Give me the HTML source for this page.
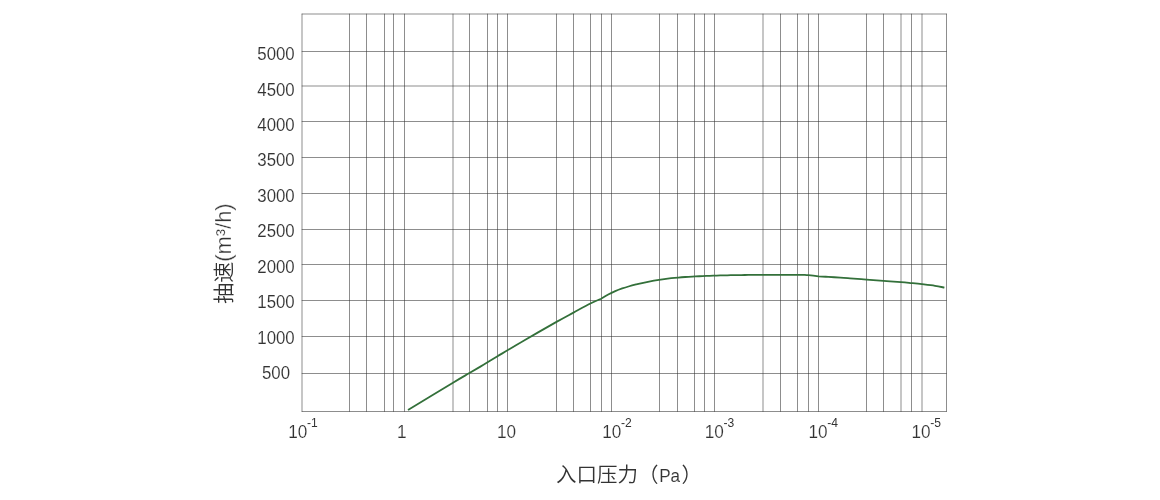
<!DOCTYPE html>
<html lang="zh-CN">
<head>
<meta charset="utf-8">
<title>抽速曲线</title>
<style>
html,body{margin:0;padding:0;background:#fff;}
body{width:1160px;height:500px;overflow:hidden;}
svg{display:block;}
.g line{stroke:#333;stroke-width:0.56;}
.yl{font-family:"Liberation Sans",sans-serif;font-size:18.2px;fill:#333;text-anchor:middle;stroke:#fff;stroke-width:0.1px;}
.xl{font-family:"Liberation Sans","Noto Sans CJK SC",sans-serif;font-size:17.9px;fill:#333;stroke:#fff;stroke-width:0.15px;}
.xs{font-family:"Liberation Sans","Noto Sans CJK SC",sans-serif;font-size:12.6px;fill:#333;stroke:none;}
.xt{font-family:"Liberation Sans","Noto Sans CJK SC",sans-serif;font-weight:350;font-size:20.5px;fill:#333;}
.xtl{font-size:19px;stroke:#fff;stroke-width:0.1px;}
.ytl{font-size:21.9px;stroke:#fff;stroke-width:0.3px;}
.yt{font-family:"Liberation Sans","Noto Sans CJK SC",sans-serif;font-weight:350;font-size:21px;fill:#333;}
</style>
</head>
<body>
<svg width="1160" height="500" viewBox="0 0 1160 500">
<rect x="0" y="0" width="1160" height="500" fill="#fff"/>
<g class="g">
<line x1="302.0" y1="13.72" x2="302.0" y2="411.78"/>
<line x1="349.5" y1="13.72" x2="349.5" y2="411.78"/>
<line x1="366.5" y1="13.72" x2="366.5" y2="411.78"/>
<line x1="384.5" y1="13.72" x2="384.5" y2="411.78"/>
<line x1="393.5" y1="13.72" x2="393.5" y2="411.78"/>
<line x1="404.5" y1="13.72" x2="404.5" y2="411.78"/>
<line x1="453.0" y1="13.72" x2="453.0" y2="411.78"/>
<line x1="469.5" y1="13.72" x2="469.5" y2="411.78"/>
<line x1="487.5" y1="13.72" x2="487.5" y2="411.78"/>
<line x1="497.5" y1="13.72" x2="497.5" y2="411.78"/>
<line x1="507.5" y1="13.72" x2="507.5" y2="411.78"/>
<line x1="556.5" y1="13.72" x2="556.5" y2="411.78"/>
<line x1="573.5" y1="13.72" x2="573.5" y2="411.78"/>
<line x1="590.5" y1="13.72" x2="590.5" y2="411.78"/>
<line x1="601.5" y1="13.72" x2="601.5" y2="411.78"/>
<line x1="611.5" y1="13.72" x2="611.5" y2="411.78"/>
<line x1="659.5" y1="13.72" x2="659.5" y2="411.78"/>
<line x1="677.5" y1="13.72" x2="677.5" y2="411.78"/>
<line x1="694.5" y1="13.72" x2="694.5" y2="411.78"/>
<line x1="704.5" y1="13.72" x2="704.5" y2="411.78"/>
<line x1="714.5" y1="13.72" x2="714.5" y2="411.78"/>
<line x1="763.0" y1="13.72" x2="763.0" y2="411.78"/>
<line x1="780.5" y1="13.72" x2="780.5" y2="411.78"/>
<line x1="797.5" y1="13.72" x2="797.5" y2="411.78"/>
<line x1="808.5" y1="13.72" x2="808.5" y2="411.78"/>
<line x1="818.5" y1="13.72" x2="818.5" y2="411.78"/>
<line x1="866.5" y1="13.72" x2="866.5" y2="411.78"/>
<line x1="883.5" y1="13.72" x2="883.5" y2="411.78"/>
<line x1="901.0" y1="13.72" x2="901.0" y2="411.78"/>
<line x1="911.5" y1="13.72" x2="911.5" y2="411.78"/>
<line x1="922.0" y1="13.72" x2="922.0" y2="411.78"/>
<line x1="946.5" y1="13.72" x2="946.5" y2="411.78"/>
<line x1="301.72" y1="14.0" x2="946.78" y2="14.0"/>
<line x1="301.72" y1="51.5" x2="946.78" y2="51.5"/>
<line x1="301.72" y1="86.0" x2="946.78" y2="86.0"/>
<line x1="301.72" y1="121.5" x2="946.78" y2="121.5"/>
<line x1="301.72" y1="157.5" x2="946.78" y2="157.5"/>
<line x1="301.72" y1="193.5" x2="946.78" y2="193.5"/>
<line x1="301.72" y1="229.5" x2="946.78" y2="229.5"/>
<line x1="301.72" y1="264.5" x2="946.78" y2="264.5"/>
<line x1="301.72" y1="300.5" x2="946.78" y2="300.5"/>
<line x1="301.72" y1="336.5" x2="946.78" y2="336.5"/>
<line x1="301.72" y1="373.5" x2="946.78" y2="373.5"/>
<line x1="301.72" y1="411.5" x2="946.78" y2="411.5"/>
</g>
<path d="M408.0,410.0 C415.50,405.45 442.83,388.82 453.00,382.70 C463.17,376.58 463.92,376.28 469.00,373.30 C474.08,370.32 478.75,367.63 483.50,364.80 C488.25,361.97 490.67,360.40 497.50,356.30 C504.33,352.20 514.67,345.93 524.50,340.20 C534.33,334.47 548.33,326.50 556.50,321.90 C564.67,317.30 567.85,315.67 573.50,312.60 C579.15,309.53 585.77,305.82 590.40,303.50 C595.02,301.18 599.44,299.50 601.25,298.70 C602.42,298.00 605.92,295.75 608.25,294.49 C610.58,293.23 612.92,292.13 615.25,291.12 C617.58,290.11 619.92,289.24 622.25,288.43 C624.58,287.62 626.92,286.92 629.25,286.25 C631.58,285.58 633.92,285.00 636.25,284.42 C638.58,283.85 640.92,283.31 643.25,282.80 C645.58,282.29 647.92,281.81 650.25,281.37 C652.58,280.93 654.92,280.51 657.25,280.13 C659.58,279.75 661.92,279.40 664.25,279.08 C666.58,278.76 668.92,278.47 671.25,278.21 C673.58,277.95 675.92,277.73 678.25,277.53 C680.58,277.33 682.92,277.16 685.25,277.01 C687.58,276.86 689.92,276.73 692.25,276.60 C694.58,276.47 696.92,276.36 699.25,276.25 C701.58,276.14 703.92,276.04 706.25,275.95 C708.58,275.86 710.92,275.77 713.25,275.69 C715.58,275.61 717.92,275.54 720.25,275.47 C722.58,275.40 724.92,275.35 727.25,275.29 C729.58,275.24 731.92,275.18 734.25,275.14 C736.58,275.10 738.92,275.06 741.25,275.03 C743.58,275.00 745.92,274.97 748.25,274.94 C750.58,274.91 752.92,274.89 755.25,274.87 C757.58,274.85 759.92,274.84 762.25,274.83 C764.58,274.82 766.92,274.81 769.25,274.80 C771.58,274.79 773.92,274.79 776.25,274.79 C778.58,274.79 780.92,274.78 783.25,274.78 C785.58,274.78 787.92,274.79 790.25,274.79 C792.58,274.79 794.94,274.79 797.25,274.79 C799.56,274.79 802.96,274.80 804.10,274.80 C804.82,274.86 805.98,274.89 808.40,275.15 C810.82,275.41 816.90,276.15 818.60,276.35 C820.22,276.44 824.68,276.69 828.30,276.90 C831.92,277.11 836.68,277.37 840.30,277.60 C843.92,277.83 845.63,277.97 850.00,278.30 C854.37,278.63 860.92,279.17 866.50,279.60 C872.08,280.03 877.75,280.48 883.50,280.90 C889.25,281.32 896.33,281.73 901.00,282.10 C905.67,282.47 908.00,282.75 911.50,283.10 C915.00,283.45 918.08,283.75 922.00,284.20 C925.92,284.65 931.27,285.23 935.00,285.80 C938.73,286.37 942.83,287.30 944.40,287.60" fill="none" stroke="#33703a" stroke-width="1.8" stroke-linejoin="round" stroke-linecap="butt"/>
<text class="yl" transform="translate(276,60) scale(0.925,1)">5000</text>
<text class="yl" transform="translate(276,96) scale(0.925,1)">4500</text>
<text class="yl" transform="translate(276,131) scale(0.925,1)">4000</text>
<text class="yl" transform="translate(276,166) scale(0.925,1)">3500</text>
<text class="yl" transform="translate(276,202) scale(0.925,1)">3000</text>
<text class="yl" transform="translate(276,237) scale(0.925,1)">2500</text>
<text class="yl" transform="translate(276,273) scale(0.925,1)">2000</text>
<text class="yl" transform="translate(276,308) scale(0.925,1)">1500</text>
<text class="yl" transform="translate(276,344) scale(0.925,1)">1000</text>
<text class="yl" transform="translate(276,379) scale(0.925,1)">500</text>
<text class="xl" transform="translate(288.20,438) scale(0.96,1)">10<tspan class="xs" dx="-0.3" dy="-11">-1</tspan></text>
<text class="xl" transform="translate(396.90,438) scale(0.96,1)">1</text>
<text class="xl" transform="translate(497.00,438) scale(0.96,1)">10</text>
<text class="xl" transform="translate(602.25,438) scale(0.96,1)">10<tspan class="xs" dx="-0.3" dy="-11">-2</tspan></text>
<text class="xl" transform="translate(704.75,438) scale(0.96,1)">10<tspan class="xs" dx="-0.3" dy="-11">-3</tspan></text>
<text class="xl" transform="translate(808.50,438) scale(0.96,1)">10<tspan class="xs" dx="-0.3" dy="-11">-4</tspan></text>
<text class="xl" transform="translate(911.50,438) scale(0.96,1)">10<tspan class="xs" dx="-0.3" dy="-11">-5</tspan></text>
<text class="xt" x="556" y="482">入口压力（</text>
<text class="xt xtl" transform="translate(659.2,482) scale(0.9,1)">Pa</text>
<text class="xt" x="681.6" y="482">）</text>
<text class="yt" transform="translate(231.1,303.7) rotate(-90)">抽速<tspan class="ytl">(m³/h)</tspan></text>
</svg>
</body>
</html>
